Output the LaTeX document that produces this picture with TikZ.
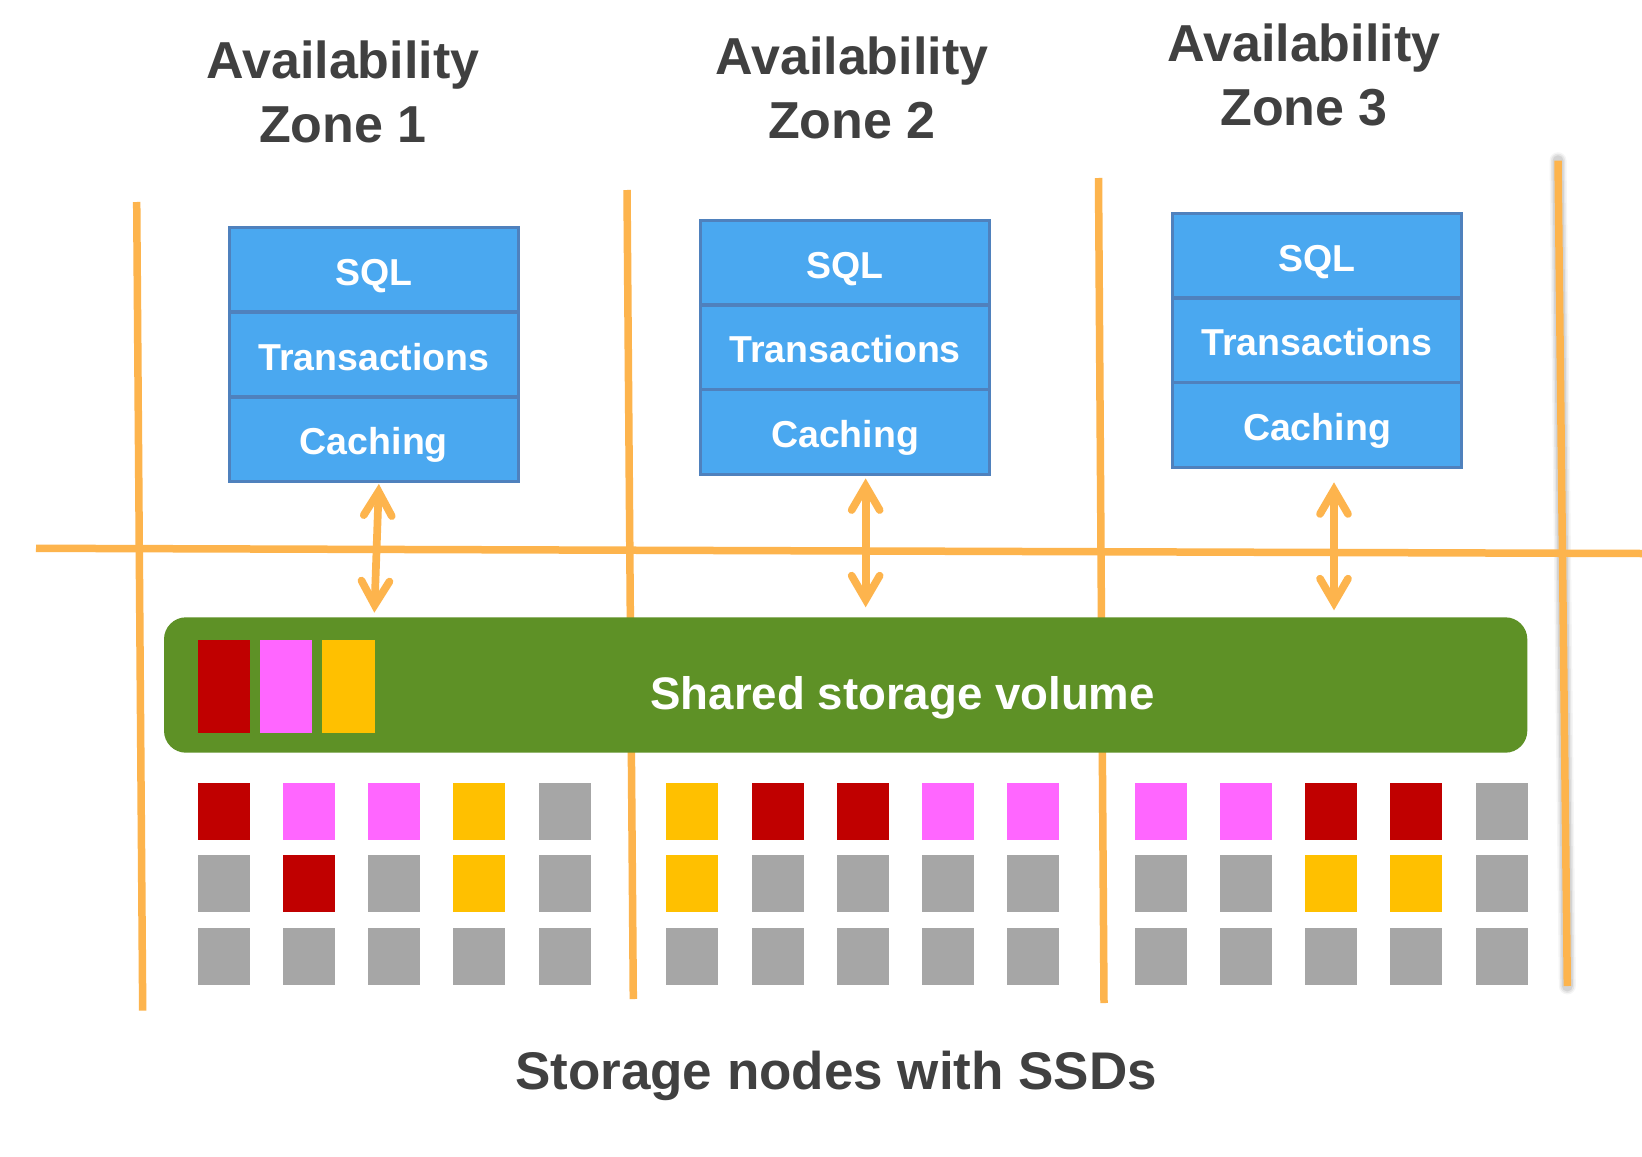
\documentclass[tikz,border=0pt]{standalone}
\usepackage{fontspec}
\setmainfont{Liberation Sans}
\usetikzlibrary{arrows.meta,calc}

\definecolor{zoneline}{HTML}{FDB44D}
\definecolor{layerfill}{HTML}{4AA8F0}
\definecolor{layeredge}{HTML}{4F81BD}
\definecolor{volgreen}{HTML}{5E9126}
\definecolor{blkred}{HTML}{C00000}
\definecolor{blkpink}{HTML}{FF66FF}
\definecolor{blkyellow}{HTML}{FFC000}
\definecolor{blkgray}{HTML}{A6A6A6}
\definecolor{inkgray}{HTML}{404040}

\begin{document}
\begin{tikzpicture}[x=0.5pt,y=-0.5pt,
  zoneborder/.style={zoneline, line width=3.75pt},
  layer/.style={draw=layeredge, fill=layerfill, line width=1.65pt, outer sep=0pt,
    inner sep=0pt, minimum width=144.5pt, minimum height=42.35pt,
    text=white, font=\fontsize{18.75}{22}\selectfont\bfseries,
    text height=15.5pt, text depth=0pt},
  zonetitle/.style={text=inkgray, align=center, inner sep=0pt,
    font=\fontsize{26}{32}\selectfont\bfseries},
  block/.style={rectangle, inner sep=0pt, outer sep=0pt, minimum width=26pt, minimum height=28.5pt},
  bar/.style={rectangle, inner sep=0pt, outer sep=0pt, minimum width=26pt, minimum height=46.35pt},
  link/.style={zoneline, line width=3.85pt,
    >={Straight Barb[length=12pt,width=14pt,line cap=round,line join=miter]}, <->},
]
\useasboundingbox (0,0) rectangle (1642,1156);
\fill[white] (0,0) rectangle (1642,1156);

% soft shadow behind the right-hand zone border
\foreach \w/\o in {8.5/0.04,7/0.06,5.5/0.08}
  \draw[black, opacity=\o, line width=\w pt, line cap=round] (1558,160.7) -- (1567.3,986);

% zone borders
\draw[zoneborder] (136.7,202) coordinate (b0t) -- (142.7,1010.7) coordinate (b0b);
\draw[zoneborder] (627,190) coordinate (b1t) -- (633.3,999) coordinate (b1b);
\draw[zoneborder] (1098.5,178) coordinate (b2t) -- (1104,1003) coordinate (b2b);
\draw[zoneborder] (1558,160.7) coordinate (b3t) -- (1567.3,986) coordinate (b3b);
\draw[zoneborder] (36,548.3) coordinate (hl) -- (1642,553.5) coordinate (hr);

% shared storage volume
\node[rectangle, fill=volgreen, rounded corners=11pt, inner sep=0pt, outer sep=0pt,
  minimum width=681.65pt, minimum height=67.7pt] (sv) at (845.65,685) {};
\node[bar, fill=blkred]    (vb1) at (224,686.35) {};
\node[bar, fill=blkpink]   (vb2) at (286,686.35) {};
\node[bar, fill=blkyellow, minimum width=26.5pt] (vb3) at (348.5,686.35) {};
\node[anchor=base, text=white, inner sep=0pt, font=\fontsize{22.8}{27}\selectfont\bfseries]
  (svlabel) at (902.7,709) {Shared storage volume};

% database layers per zone
\node[layer] (sql1) at (373.85,269.73) {SQL};
\node[layer] (tx1)  at (373.85,354.50) {Transactions};
\node[layer] (ca1)  at (373.85,439.27) {Caching};

\node[layer] (sql2) at (845.15,262.88) {SQL};
\node[layer] (tx2)  at (845.15,347.35) {Transactions};
\node[layer] (ca2)  at (845.15,431.82) {Caching};

\node[layer] (sql3) at (1317,255.68) {SQL};
\node[layer] (tx3)  at (1317,340.35) {Transactions};
\node[layer] (ca3)  at (1317,425.02) {Caching};

% links between the layers and the volume
\draw[link] ($(ca1.south)+(5,2.35)$) -- ($(ca1.south |- sv.north)+(0.5,-4.6)$);
\draw[link] ($(ca2.south)+(20.5,4.25)$) -- ($(ca2.south |- sv.north)+(20.5,-10)$);
\draw[link] ($(ca3.south)+(17,14.95)$) -- ($(ca3.south |- sv.north)+(17,-7)$);

% storage nodes
\foreach \z/\xs/\cols in {
  1/{224,309,394,479,564.5}/{blkred,blkpink,blkpink,blkyellow,blkgray,
                             blkgray,blkred,blkgray,blkyellow,blkgray},
  2/{692,777.5,863,948,1033}/{blkyellow,blkred,blkred,blkpink,blkpink,
                             blkyellow,blkgray,blkgray,blkgray,blkgray},
  3/{1161,1246,1331,1416,1501.5}/{blkpink,blkpink,blkred,blkred,blkgray,
                             blkgray,blkgray,blkyellow,blkyellow,blkgray}} {
  \foreach \x [count=\c] in \xs {
    \foreach \y [count=\r] in {811.5,883.5,956.5} {
      \pgfmathtruncatemacro{\idx}{(\r-1)*5+\c}
      \ifnum\idx>10
        \xdef\fillc{blkgray}
      \else
        \foreach \cc [count=\k] in \cols {\ifnum\k=\idx \xdef\fillc{\cc}\fi}
      \fi
      \node[block, fill=\fillc] (n\z-\r-\c) at (\x,\y) {};
    }
  }
}

% zone titles
\node[zonetitle] (az1) at (343,92) {Availability\\Zone 1};
\node[zonetitle] (az2) at (852,88) {Availability\\Zone 2};
\node[zonetitle] (az3) at (1304,75) {Availability\\Zone 3};

\node[anchor=base, text=inkgray, inner sep=0pt, font=\fontsize{26.5}{31}\selectfont\bfseries]
  (caption) at (836,1089) {Storage nodes with SSDs};
\end{tikzpicture}
\end{document}
